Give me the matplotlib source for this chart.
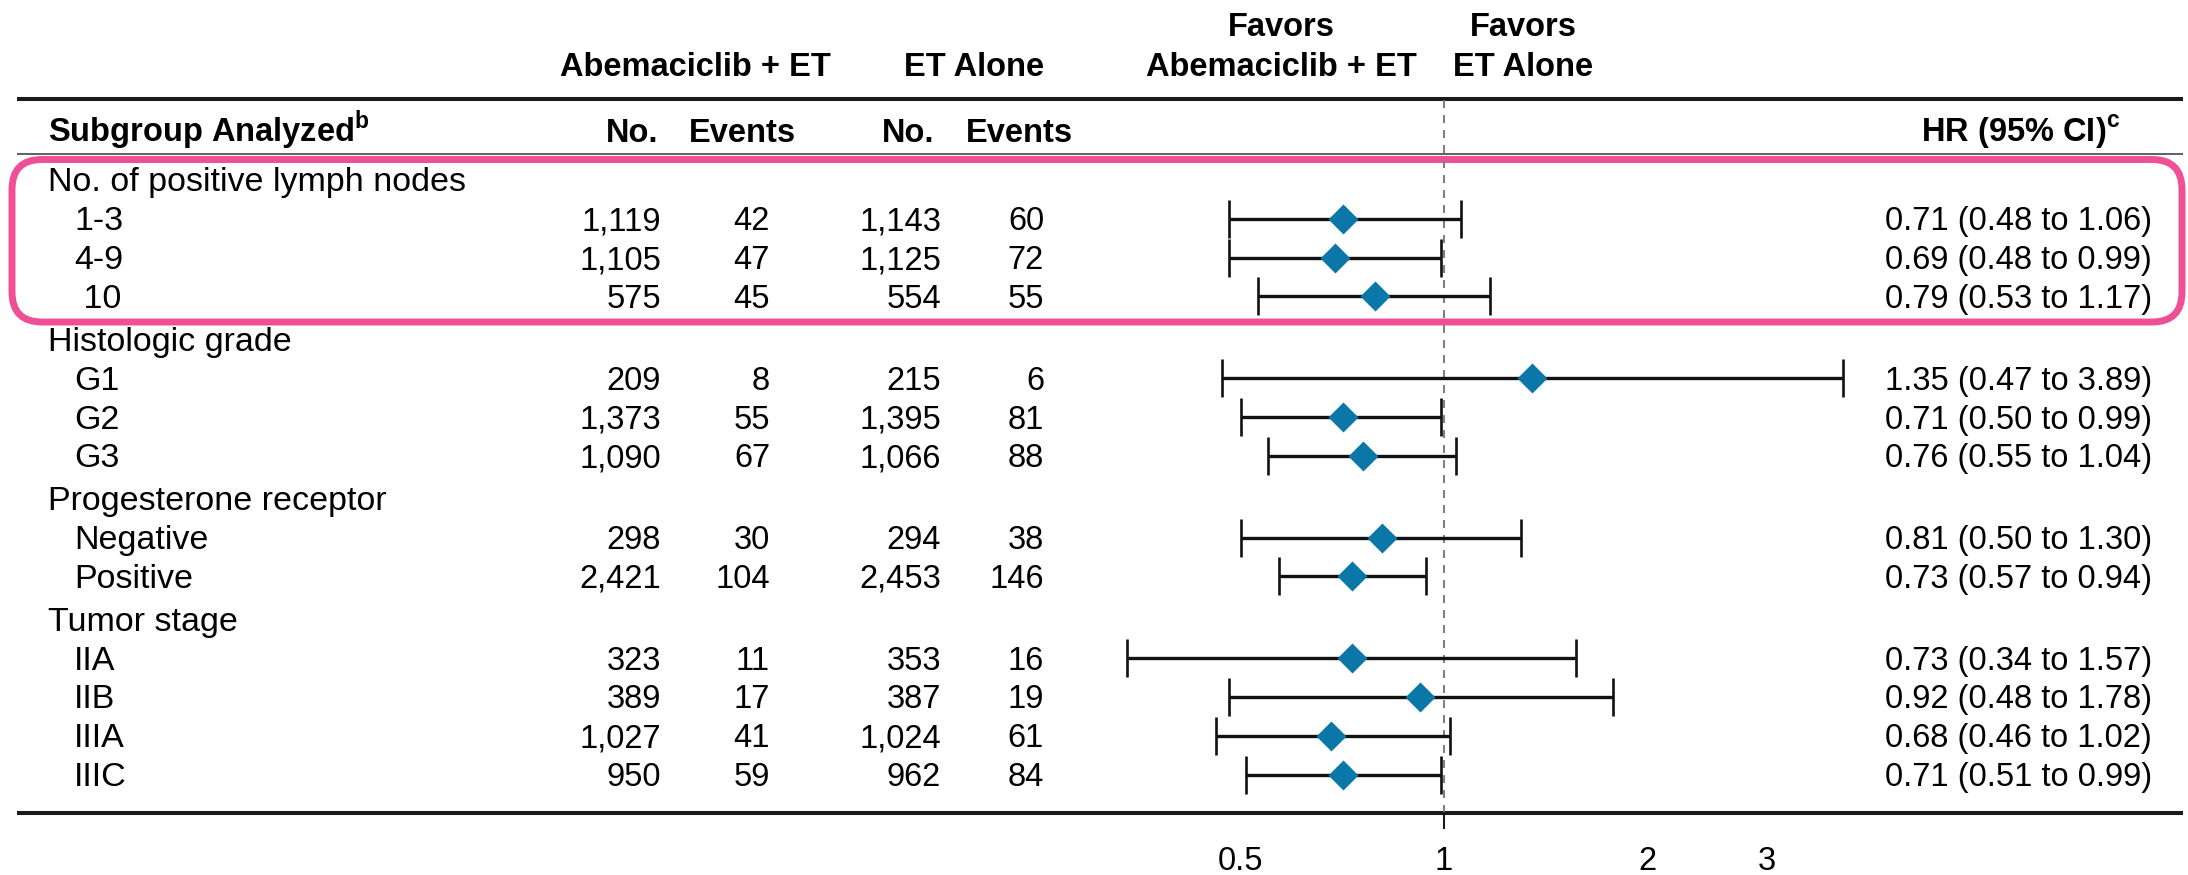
import numpy as np
import matplotlib
matplotlib.use('Agg')
import matplotlib.pyplot as plt
from matplotlib.patches import FancyBboxPatch
from matplotlib.ticker import NullLocator, FixedLocator, FixedFormatter

plt.rcParams['font.family'] = ['Liberation Sans', 'DejaVu Sans']
plt.rcParams['mathtext.fontset'] = 'custom'
plt.rcParams['mathtext.rm'] = 'Liberation Sans'
plt.rcParams['mathtext.bf'] = 'Liberation Sans:bold'

# data
groups = ['No. of positive lymph nodes', 'Histologic grade',
          'Progesterone receptor', 'Tumor stage']
group_sizes = [3, 3, 2, 4]
labels = ['1-3', '4-9', ' 10', 'G1', 'G2', 'G3', 'Negative', 'Positive',
          'IIA', 'IIB', 'IIIA', 'IIIC']
abema_n = [1119, 1105, 575, 209, 1373, 1090, 298, 2421, 323, 389, 1027, 950]
abema_ev = [42, 47, 45, 8, 55, 67, 30, 104, 11, 17, 41, 59]
et_n = [1143, 1125, 554, 215, 1395, 1066, 294, 2453, 353, 387, 1024, 962]
et_ev = [60, 72, 55, 6, 81, 88, 38, 146, 16, 19, 61, 84]
hr = [0.71, 0.69, 0.79, 1.35, 0.71, 0.76, 0.81, 0.73, 0.73, 0.92, 0.68, 0.71]
lo = [0.48, 0.48, 0.53, 0.47, 0.50, 0.55, 0.50, 0.57, 0.34, 0.48, 0.46, 0.51]
hi = [1.06, 0.99, 1.17, 3.89, 0.99, 1.04, 1.30, 0.94, 1.57, 1.78, 1.02, 0.99]
xticks = [0.5, 1, 2, 3]
xticklabels = ['0.5', '1', '2', '3']

W, H = 2188, 875
fig = plt.figure(figsize=(W / 100, H / 100), dpi=100)
ax = fig.add_axes([0, 0, 1, 1])
ax.set_xlim(0, W)
ax.set_ylim(H, 0)
ax.axis('off')

fs = 23.5      # numbers and headers
fs_lab = 24.5  # row labels
off = 11.5     # baseline offset from visual centre

# row positions (pixels from top)
group_y = []
item_y = []
y = 180
for g, n in zip(groups, group_sizes):
    group_y.append(y)
    for i in range(n):
        y += 38.8
        item_y.append(y)
    y += 43

# header
bold = dict(va='baseline', fontsize=fs, fontweight='bold')
ax.text(695, 65 + off, 'Abemaciclib + ET', ha='center', **bold)
ax.text(974, 65 + off, 'ET Alone', ha='center', **bold)
ax.text(1281, 25 + off, 'Favors', ha='center', **bold)
ax.text(1281, 65 + off, 'Abemaciclib + ET', ha='center', **bold)
ax.text(1523, 25 + off, 'Favors', ha='center', **bold)
ax.text(1523, 65 + off, 'ET Alone', ha='center', **bold)

ax.text(48, 130 + off, r'Subgroup Analyzed$^{\mathbf{b}}$', ha='left', **bold)
for xx, t in [(658, 'No.'), (796, 'Events'), (934, 'No.'), (1073, 'Events')]:
    ax.text(xx, 130 + off, t, ha='right', **bold)
ax.text(2120, 130 + off, r'HR (95% CI)$^{\mathbf{c}}$', ha='right', **bold)

# rules
ax.plot([17, 2183], [99, 99], color='#1a1a1a', lw=2.9, solid_capstyle='butt')
ax.plot([17, 2183], [154, 154], color='#555555', lw=1.3, solid_capstyle='butt')
ax.plot([17, 2183], [813, 813], color='#1a1a1a', lw=2.9, solid_capstyle='butt')

# table text
for g, gy in zip(groups, group_y):
    ax.text(48, gy + off, g, ha='left', va='baseline', fontsize=fs_lab)
for i, iy in enumerate(item_y):
    ax.text(74, iy + off, labels[i], ha='left', va='baseline', fontsize=fs_lab)
    ax.text(661, iy + off, f'{abema_n[i]:,}', ha='right', va='baseline', fontsize=fs)
    ax.text(770, iy + off, f'{abema_ev[i]}', ha='right', va='baseline', fontsize=fs)
    ax.text(941, iy + off, f'{et_n[i]:,}', ha='right', va='baseline', fontsize=fs)
    ax.text(1044, iy + off, f'{et_ev[i]}', ha='right', va='baseline', fontsize=fs)
    ax.text(2152, iy + off, f'{hr[i]:.2f} ({lo[i]:.2f} to {hi[i]:.2f})',
            ha='right', va='baseline', fontsize=fs)

# highlight box
box = FancyBboxPatch((12, 159.5), 2170, 162.5, boxstyle='round,pad=0,rounding_size=30',
                     fill=False, edgecolor='#EE4F95', lw=5, zorder=5)
ax.add_patch(box)

# forest axes, log scale
x0, x1 = 1100, 1900
fa = fig.add_axes([x0 / W, (H - 813) / H, (x1 - x0) / W, (813 - 99) / H])
fa.patch.set_alpha(0)
fa.set_xscale('log')
fa.set_xlim(10 ** ((x0 - 1444) / 676), 10 ** ((x1 - 1444) / 676))
fa.set_ylim(813, 99)
for s in fa.spines.values():
    s.set_visible(False)
fa.set_yticks([])
fa.xaxis.set_major_locator(FixedLocator(xticks))
fa.xaxis.set_major_formatter(FixedFormatter(xticklabels))
fa.xaxis.set_minor_locator(NullLocator())
fa.tick_params(axis='x', length=0, pad=24, labelsize=fs)

fa.axvline(1, color='#808080', lw=1.5, ls=(0, (3.8, 3.4)), zorder=1)
fa.plot([1, 1], [813, 828], color='#1a1a1a', lw=1.5, clip_on=False)

hr_a = np.array(hr)
fa.errorbar(hr_a, item_y, xerr=[hr_a - np.array(lo), np.array(hi) - hr_a], fmt='none',
            ecolor='#111111', elinewidth=2.4, capsize=13.5, capthick=1.9, zorder=2)
fa.plot(hr_a, item_y, 'D', color='#0A77A8', ms=15, mec='none', zorder=3)

fig.savefig('out.png', dpi=100)
